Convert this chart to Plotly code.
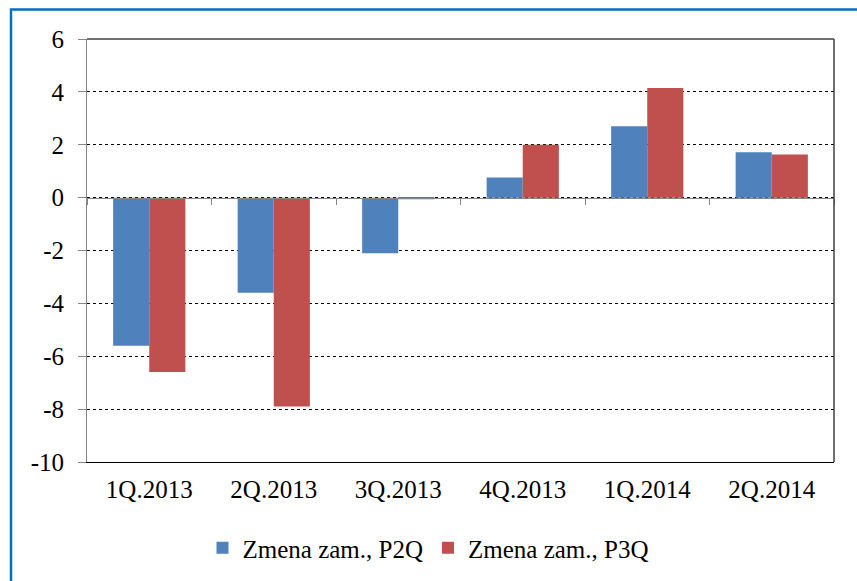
import plotly.graph_objects as go

categories = ["1Q.2013", "2Q.2013", "3Q.2013", "4Q.2013", "1Q.2014", "2Q.2014"]
p2q = [-5.6, -3.6, -2.1, 0.76, 2.7, 1.72]
p3q = [-6.6, -7.9, -0.06, 2.0, 4.15, 1.63]
names = ["Zmena zam., P2Q", "Zmena zam., P3Q"]
colors = ["#4F81BD", "#C0504D"]
yticks = [-10, -8, -6, -4, -2, 0, 2, 4, 6]

FONT = "Liberation Serif, serif"
FS = 25

fig = go.Figure()
fig.add_trace(go.Bar(x=list(range(len(categories))), y=p2q, name=names[0],
                     marker=dict(color=colors[0], line=dict(width=0))))
fig.add_trace(go.Bar(x=list(range(len(categories))), y=p3q, name=names[1],
                     marker=dict(color=colors[1], line=dict(width=0))))
# helper trace so the zero-line category axis is drawn
fig.add_trace(go.Scatter(x=[0], y=[0], xaxis="x2", mode="markers",
                         marker=dict(opacity=0), showlegend=False, hoverinfo="skip"))

W, H = 857, 581
L, R, T, B = 87, 23, 39, 119
pw, ph = W - L - R, H - T - B

fig.update_layout(
    width=W, height=H,
    margin=dict(l=L, r=R, t=T, b=B),
    paper_bgcolor="white", plot_bgcolor="white",
    barmode="group", bargap=0.42, bargroupgap=0,
    font=dict(family=FONT, size=FS, color="#000000"),
    showlegend=True,
    legend=dict(orientation="h", xref="container", x=0.5, xanchor="center",
                yref="container", y=1 - 548 / H, yanchor="middle",
                font=dict(family=FONT, size=FS), itemwidth=30,
                traceorder="normal"),
    xaxis=dict(range=[-0.5, len(categories) - 0.5], tickmode="array",
               tickvals=list(range(len(categories))), ticktext=categories,
               showline=True, linecolor="#000000", linewidth=1,
               ticks="", showgrid=False, zeroline=False, ticklabelstandoff=5,
               tickfont=dict(family=FONT, size=FS)),
    xaxis2=dict(overlaying="x", anchor="free", position=10 / 16,
                range=[-0.5, len(categories) - 0.5], tickmode="array",
                tickvals=[i - 0.5 for i in range(len(categories) + 1)],
                showticklabels=False, ticks="outside", ticklen=6,
                tickcolor="#868686", tickwidth=1,
                showline=True, linecolor="#868686", linewidth=1,
                showgrid=False, zeroline=False),
    yaxis=dict(range=[-10, 6], tickmode="array", tickvals=yticks,
               ticktext=[str(v) for v in yticks],
               showline=True, linecolor="#868686", linewidth=1,
               ticks="outside", ticklen=8, tickcolor="#868686",
               ticklabelstandoff=9,
               showgrid=True, gridcolor="#000000", gridwidth=1, griddash="dot",
               zeroline=False, tickfont=dict(family=FONT, size=FS)),
    shapes=[
        # top and right plot borders
        dict(type="line", xref="paper", yref="paper", x0=0, x1=1, y0=1, y1=1,
             line=dict(color="#404040", width=1.5), layer="above"),
        dict(type="line", xref="paper", yref="paper", x0=1, x1=1, y0=0, y1=1,
             line=dict(color="#404040", width=1.5), layer="above"),
        # outer blue frame
        dict(type="rect", xref="paper", yref="paper",
             x0=(11 - L) / pw, x1=(W + 20 - L) / pw,
             y0=-(B + 20) / ph, y1=1 + (T - 9.5) / ph,
             line=dict(color="#0070C0", width=2.5), fillcolor="rgba(0,0,0,0)",
             layer="above"),
    ],
)

fig.write_html("out.html", config={"displayModeBar": False},
               post_script="document.body.style.margin='0';")
